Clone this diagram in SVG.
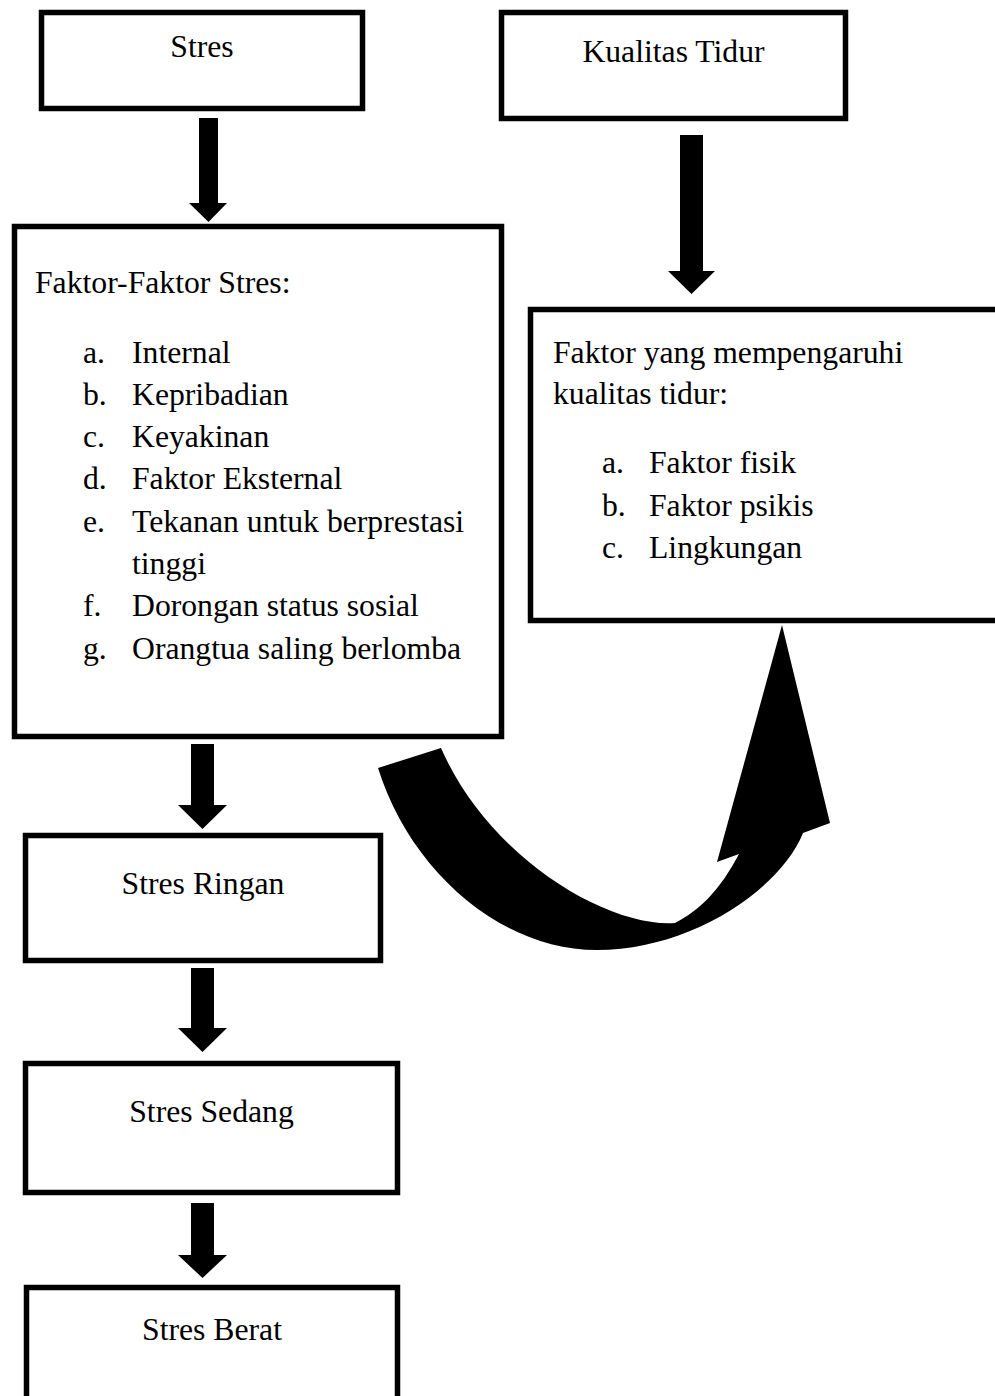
<svg xmlns="http://www.w3.org/2000/svg" width="995" height="1396" viewBox="0 0 995 1396">
<style>
.box{fill:#fff;stroke:#000;stroke-width:5.5}
.t{font-family:"Liberation Serif","Times New Roman",serif;font-size:31.7px;fill:#000}
.c{text-anchor:middle}
.arr{fill:#000;stroke:none}
</style>
<rect width="995" height="1396" fill="#fff"/>
<g id="connectors">
<polygon class="arr" points="199,118 218,118 218,203 227,203 208.5,222 189,203 199,203"/>
<polygon class="arr" points="680,135 703,135 703,271 715,271 691.5,294 668,271 680,271"/>
<polygon class="arr" points="191,744 214,744 214,805 227,805 202.5,829 178,805 191,805"/>
<polygon class="arr" points="191,968 214,968 214,1028 227,1028 202.5,1052 178,1028 191,1028"/>
<polygon class="arr" points="191,1203 214,1203 214,1255 227,1255 202.5,1278 178,1255 191,1255"/>
<path class="arr" d="M378,768 C410,870 500,950 597,950 C690,950 780,890 803,833 L830,823 L782,625 L717,862 L739,854 C720,890 700,910 675,923 C610,928 490,860 441,748 Z"/>
</g>
<g id="node-stres">
<rect class="box" x="41.5" y="12.5" width="321" height="96"/>
<text class="t c" x="202" y="57">Stres</text>
</g>
<g id="node-kualitas">
<rect class="box" x="501.5" y="12.5" width="344" height="106"/>
<text class="t c" x="673.5" y="62">Kualitas Tidur</text>
</g>
<g id="node-faktor-stres">
<rect class="box" x="14.5" y="226.5" width="487" height="510"/>
<text class="t" x="35" y="293">Faktor-Faktor Stres:</text>
<text class="t" x="83" y="363">a.</text><text class="t" x="132" y="363">Internal</text>
<text class="t" x="83" y="405">b.</text><text class="t" x="132" y="405">Kepribadian</text>
<text class="t" x="83" y="447">c.</text><text class="t" x="132" y="447">Keyakinan</text>
<text class="t" x="83" y="489">d.</text><text class="t" x="132" y="489">Faktor Eksternal</text>
<text class="t" x="83" y="532">e.</text><text class="t" x="132" y="532">Tekanan untuk berprestasi</text>
<text class="t" x="132" y="574">tinggi</text>
<text class="t" x="83" y="616">f.</text><text class="t" x="132" y="616">Dorongan status sosial</text>
<text class="t" x="83" y="659">g.</text><text class="t" x="132" y="659">Orangtua saling berlomba</text>
</g>
<g id="node-faktor-tidur">
<rect class="box" x="530.5" y="309.5" width="500" height="311"/>
<text class="t" x="553" y="363">Faktor yang mempengaruhi</text>
<text class="t" x="553" y="404">kualitas tidur:</text>
<text class="t" x="602" y="473">a.</text><text class="t" x="649" y="473">Faktor fisik</text>
<text class="t" x="602" y="516">b.</text><text class="t" x="649" y="516">Faktor psikis</text>
<text class="t" x="602" y="558">c.</text><text class="t" x="649" y="558">Lingkungan</text>
</g>
<g id="node-ringan">
<rect class="box" x="25.5" y="835.5" width="355" height="125"/>
<text class="t c" x="203" y="894">Stres Ringan</text>
</g>
<g id="node-sedang">
<rect class="box" x="25.5" y="1063.5" width="372" height="129"/>
<text class="t c" x="211.5" y="1122">Stres Sedang</text>
</g>
<g id="node-berat">
<rect class="box" x="26.5" y="1287.5" width="371" height="200"/>
<text class="t c" x="212" y="1340">Stres Berat</text>
</g>
</svg>
